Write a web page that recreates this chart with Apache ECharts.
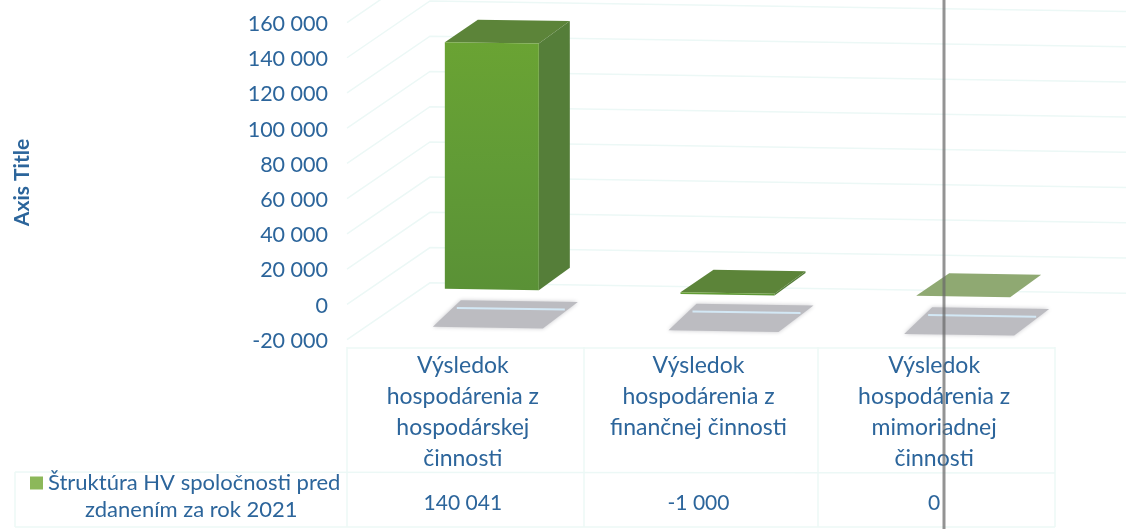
<!DOCTYPE html>
<html>
<head>
<meta charset="utf-8">
<style>html,body{margin:0;padding:0;background:#fff}#main{width:1126px;height:529px}</style>
<script src="https://cdn.jsdelivr.net/npm/echarts@6/dist/echarts.min.js"></script>
</head>
<body>
<div id="main"></div>
<script>
var categories = ['Výsledok\nhospodárenia z\nhospodárskej\nčinnosti', 'Výsledok\nhospodárenia z\nfinančnej činnosti\n ', 'Výsledok\nhospodárenia z\nmimoriadnej\nčinnosti'];
var values = [140041, -1000, 0];
var yTicks = [-20000, 0, 20000, 40000, 60000, 80000, 100000, 120000, 140000, 160000];
var seriesName = 'Štruktúra HV spoločnosti pred zdanením za rok 2021';

var blue = '#2c659b';
var fontName = 'Lato';
var gridColor = '#ecf8f6';
var gridLeft = 345, gridTop = 24, gridWidth = 707, gridHeight = 317;

// the scan is a bit rotated, 3d parts go down to the right
function skew(x) {
	return (x - 445) * 0.015;
}
function fmt(v) {
	return String(v).replace(/\B(?=(\d{3})+$)/g, ' ');
}
function pts(arr) {
	return arr.map(function(p) { return [p[0], p[1] + skew(p[0])]; });
}

// back wall and side wall lines
var renderWall = function(params, api) {
	var p = api.coord([0, api.value(0)]);
	var y = p[1];
	return {
		type: 'polyline',
		silent: true,
		shape: { points: pts([[gridLeft + 2, y], [gridLeft + 85, y - 58], [1140, y - 58]]) },
		style: { fill: null, stroke: gridColor, lineWidth: 1.5 }
	};
};

// grey shape on the floor under each bar
var renderShadow = function(params, api) {
	var p = api.coord([api.value(0), -20000]);
	var x = p[0] - 30, y = p[1] - 14;
	var yLine = api.coord([api.value(0), 0])[1];
	return {
		type: 'group',
		silent: true,
		children: [{
			type: 'polygon',
			shape: { points: pts([[x, y], [x + 28, y - 27], [x + 145, y - 27], [x + 110, y]]) },
			style: { fill: '#bcbcc1', shadowBlur: 4, shadowColor: '#c8c8cc' }
		}, {
			type: 'line',
			shape: { x1: x + 24, y1: yLine + skew(x + 24) + 2, x2: x + 132, y2: yLine + skew(x + 132) + 2 },
			style: { stroke: '#d3e8f5', lineWidth: 2 }
		}]
	};
};

var renderBar = function(params, api) {
	var c = api.coord([api.value(0), 0]);
	var v = api.coord([api.value(0), api.value(1)]);
	var x = c[0] - 18, w = 94, dx = 31, dy = -23;
	var y0 = c[1] - 17, yv = v[1] - 17;
	var top = Math.min(y0, yv), bottom = Math.max(y0, yv);
	var isZero = api.value(1) === 0;
	return {
		type: 'group',
		silent: true,
		children: [{
			type: 'polygon',
			shape: { points: pts([[x, top], [x + dx + 2, top + dy], [x + w + dx, top + dy], [x + w, top]]) },
			style: { fill: isZero ? '#8fa972' : '#5c8439' }
		}, {
			type: 'polygon',
			shape: { points: pts([[x + w, top], [x + w + dx, top + dy], [x + w + dx, bottom + dy], [x + w, bottom]]) },
			style: { fill: '#557e39' }
		}, {
			type: 'polygon',
			shape: { points: pts([[x, top], [x + w, top], [x + w, bottom], [x, bottom]]) },
			style: {
				fill: new echarts.graphic.LinearGradient(0, 0, 0, 1, [
					{ offset: 0, color: '#6aa333' },
					{ offset: 0.5, color: '#619b36' },
					{ offset: 1, color: '#5a9136' }
				])
			}
		}]
	};
};

var tableLines = [];
[347, 584, 818, 1055].forEach(function(x) {
	tableLines.push({ type: 'line', shape: { x1: x, y1: 347, x2: x, y2: 527 }, style: { stroke: gridColor, lineWidth: 1.5 } });
});
tableLines.push({ type: 'line', shape: { x1: 347, y1: 348, x2: 1055, y2: 348 }, style: { stroke: gridColor, lineWidth: 1.5 } });
tableLines.push({ type: 'line', shape: { x1: 15, y1: 472, x2: 1055, y2: 473 }, style: { stroke: gridColor, lineWidth: 1.5 } });
tableLines.push({ type: 'line', shape: { x1: 15, y1: 472, x2: 15, y2: 527 }, style: { stroke: gridColor, lineWidth: 1.5 } });
tableLines.push({ type: 'line', shape: { x1: 15, y1: 527, x2: 1055, y2: 527 }, style: { stroke: gridColor, lineWidth: 1.5 } });

var myChart = echarts.init(document.getElementById('main'));
var option = {
	animation: false,
	backgroundColor: '#ffffff',
	textStyle: { fontFamily: fontName },
	grid: { left: gridLeft, top: gridTop, width: gridWidth, height: gridHeight },
	legend: {
		left: 25,
		top: 467,
		icon: 'rect',
		itemWidth: 13,
		itemHeight: 13,
		itemGap: 0,
		selectedMode: false,
		formatter: function() { return 'Štruktúra HV spoločnosti pred'; },
		textStyle: { color: blue, fontSize: 22, fontFamily: fontName },
		data: [{ name: seriesName, itemStyle: { color: '#8cb85a' } }]
	},
	xAxis: [{
		type: 'category',
		data: categories,
		position: 'bottom',
		axisLine: { show: false },
		axisTick: { show: false },
		splitLine: { show: false },
		axisLabel: { color: blue, fontSize: 23, fontFamily: fontName, lineHeight: 31, margin: 9, interval: 0, verticalAlign: 'top' }
	}, {
		type: 'category',
		data: values.map(fmt),
		position: 'bottom',
		offset: 152,
		axisLine: { show: false },
		axisTick: { show: false },
		splitLine: { show: false },
		axisLabel: { color: blue, fontSize: 21, fontFamily: fontName, margin: 0, interval: 0, verticalAlign: 'top' }
	}],
	yAxis: {
		type: 'value',
		min: -20000,
		max: 160000,
		interval: 20000,
		name: 'Axis Title',
		nameLocation: 'middle',
		nameGap: 312,
		nameTextStyle: { color: blue, fontSize: 21, fontWeight: 'bold', fontFamily: fontName },
		axisLine: { show: false },
		axisTick: { show: false },
		splitLine: { show: false },
		axisLabel: { color: blue, fontSize: 21.5, fontFamily: fontName, margin: 17, formatter: fmt }
	},
	graphic: tableLines.concat([
		{ type: 'text', left: 85, top: 499, style: { text: 'zdanením za rok 2021', fill: blue, fontSize: 22, fontFamily: fontName } },
		// dark line left by the scanner
		{ type: 'line', z: 100, shape: { x1: 944, y1: 0, x2: 944, y2: 529 }, style: { stroke: 'rgba(105,105,105,0.72)', lineWidth: 3 } }
	]),
	series: [{
		name: 'walls',
		type: 'custom',
		renderItem: renderWall,
		data: yTicks.map(function(t) { return [t]; }),
		encode: { y: 0 },
		clip: false,
		z: 1
	}, {
		name: 'shadows',
		type: 'custom',
		renderItem: renderShadow,
		data: categories.map(function(c, i) { return [i]; }),
		encode: { x: 0 },
		clip: false,
		z: 2
	}, {
		name: seriesName,
		type: 'custom',
		renderItem: renderBar,
		data: values.map(function(v, i) { return [i, v]; }),
		encode: { x: 0, y: 1 },
		clip: false,
		z: 3,
		itemStyle: { color: '#8cb85a' }
	}]
};
myChart.setOption(option);
</script>
</body>
</html>
